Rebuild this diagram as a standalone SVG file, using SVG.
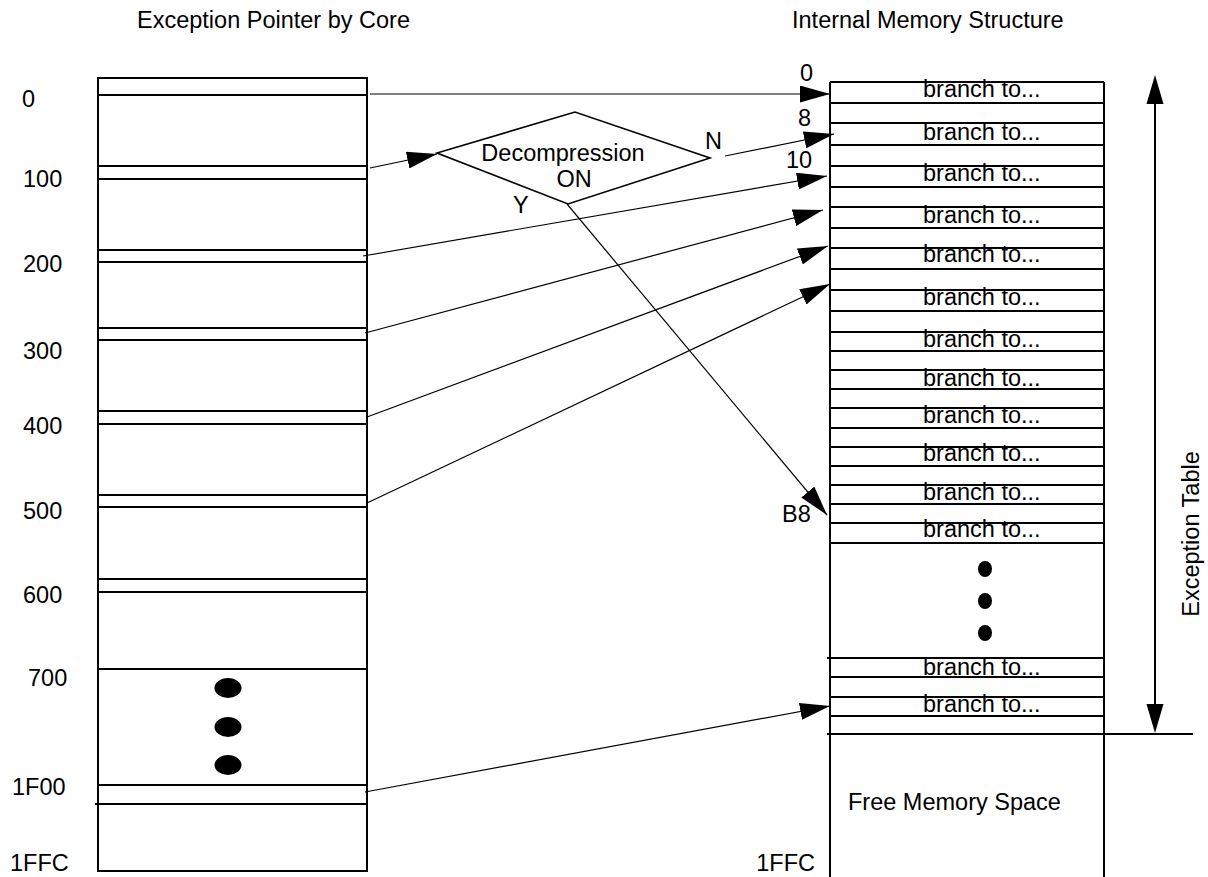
<svg xmlns="http://www.w3.org/2000/svg" width="1208" height="877" viewBox="0 0 1208 877">
<style>
text{font-family:"Liberation Sans",Arial,sans-serif;font-size:23.5px;fill:#000}
.box{fill:none;stroke:#000;stroke-width:2}
.row{stroke:#000;stroke-width:2}
.conn{stroke:#000;stroke-width:1.2;fill:none}
.dot{fill:#000}
</style>
<defs>
<marker id="ah" markerUnits="userSpaceOnUse" markerWidth="30" markerHeight="17" refX="30" refY="8.5" orient="auto" viewBox="0 0 30 17">
<path d="M0,0 L30,8.5 L0,17 Z" fill="#000"/>
</marker>
</defs>
<rect width="1208" height="877" fill="#fff"/>
<g id="titles">
<text x="137" y="28">Exception Pointer by Core</text>
<text x="792" y="28">Internal Memory Structure</text>
</g>
<g id="core-pointer">
<rect class="box" x="98" y="78" width="269" height="793"/>
<g class="row">
<line x1="98" y1="95" x2="367" y2="95"/>
<line x1="98" y1="166" x2="367" y2="166"/>
<line x1="98" y1="179" x2="367" y2="179"/>
<line x1="98" y1="250" x2="367" y2="250"/>
<line x1="98" y1="262" x2="367" y2="262"/>
<line x1="98" y1="328" x2="367" y2="328"/>
<line x1="98" y1="340" x2="367" y2="340"/>
<line x1="98" y1="411" x2="367" y2="411"/>
<line x1="98" y1="424" x2="367" y2="424"/>
<line x1="98" y1="495" x2="367" y2="495"/>
<line x1="98" y1="507" x2="367" y2="507"/>
<line x1="98" y1="579" x2="367" y2="579"/>
<line x1="98" y1="592" x2="367" y2="592"/>
<line x1="98" y1="669" x2="367" y2="669"/>
<line x1="98" y1="785" x2="367" y2="785"/>
<line x1="95" y1="804" x2="367" y2="804"/>
</g>
<ellipse class="dot" cx="228" cy="688" rx="13.5" ry="10"/>
<ellipse class="dot" cx="228" cy="727" rx="13.5" ry="10"/>
<ellipse class="dot" cx="228" cy="765" rx="13.5" ry="10"/>
<text x="22" y="107">0</text>
<text x="23" y="187">100</text>
<text x="23" y="272">200</text>
<text x="23" y="359">300</text>
<text x="23" y="434">400</text>
<text x="23" y="519">500</text>
<text x="23" y="603">600</text>
<text x="28" y="686">700</text>
<text x="12" y="795">1F00</text>
<text x="10" y="871">1FFC</text>
</g>
<g id="decision">
<polygon points="437,153 575,112 710,158 568,204" fill="#fff" stroke="#000" stroke-width="1.6"/>
<text x="563" y="161" text-anchor="middle">Decompression</text>
<text x="574" y="187" text-anchor="middle">ON</text>
<text x="705" y="149">N</text>
<text x="513" y="213">Y</text>
</g>
<g id="internal-memory">
<line class="row" x1="830" y1="82" x2="830" y2="877"/>
<line class="row" x1="1104" y1="82" x2="1104" y2="877"/>
<g class="row">
<line x1="830" y1="82" x2="1104" y2="82"/>
<line x1="830" y1="103" x2="1104" y2="103"/>
<line x1="830" y1="123" x2="1104" y2="123"/>
<line x1="830" y1="145" x2="1104" y2="145"/>
<line x1="830" y1="166" x2="1104" y2="166"/>
<line x1="830" y1="187" x2="1104" y2="187"/>
<line x1="830" y1="207" x2="1104" y2="207"/>
<line x1="830" y1="228" x2="1104" y2="228"/>
<line x1="830" y1="248" x2="1104" y2="248"/>
<line x1="830" y1="269" x2="1104" y2="269"/>
<line x1="830" y1="290" x2="1104" y2="290"/>
<line x1="830" y1="311" x2="1104" y2="311"/>
<line x1="830" y1="332" x2="1104" y2="332"/>
<line x1="830" y1="351" x2="1104" y2="351"/>
<line x1="830" y1="370" x2="1104" y2="370"/>
<line x1="830" y1="389" x2="1104" y2="389"/>
<line x1="830" y1="408" x2="1104" y2="408"/>
<line x1="830" y1="428" x2="1104" y2="428"/>
<line x1="830" y1="447" x2="1104" y2="447"/>
<line x1="830" y1="466" x2="1104" y2="466"/>
<line x1="830" y1="485" x2="1104" y2="485"/>
<line x1="830" y1="504" x2="1104" y2="504"/>
<line x1="830" y1="523" x2="1104" y2="523"/>
<line x1="830" y1="543" x2="1104" y2="543"/>
<line x1="827" y1="658" x2="1104" y2="658"/>
<line x1="830" y1="677" x2="1104" y2="677"/>
<line x1="830" y1="697" x2="1104" y2="697"/>
<line x1="830" y1="716" x2="1104" y2="716"/>
<line x1="827" y1="734" x2="1193" y2="734"/>
</g>
<text x="923" y="97">branch to...</text>
<text x="923" y="140">branch to...</text>
<text x="923" y="181">branch to...</text>
<text x="923" y="223">branch to...</text>
<text x="923" y="262">branch to...</text>
<text x="923" y="305">branch to...</text>
<text x="923" y="347">branch to...</text>
<text x="923" y="386">branch to...</text>
<text x="923" y="423">branch to...</text>
<text x="923" y="461">branch to...</text>
<text x="923" y="500">branch to...</text>
<text x="923" y="537">branch to...</text>
<text x="923" y="675">branch to...</text>
<text x="923" y="712">branch to...</text>
<ellipse class="dot" cx="985" cy="569" rx="7" ry="8"/>
<ellipse class="dot" cx="985" cy="601" rx="7" ry="8"/>
<ellipse class="dot" cx="985" cy="633" rx="7" ry="8"/>
<text x="800" y="81">0</text>
<text x="798" y="126">8</text>
<text x="786" y="168">10</text>
<text x="782" y="522">B8</text>
<text x="815" y="871" text-anchor="end">1FFC</text>
<text x="848" y="810">Free Memory Space</text>
</g>
<g id="exception-table">
<line x1="1155" y1="100" x2="1155" y2="708" stroke="#000" stroke-width="2"/>
<polygon points="1155,75 1146.5,104 1163.5,104" fill="#000"/>
<polygon points="1155,733 1146.5,704 1163.5,704" fill="#000"/>
<text x="1199" y="534" text-anchor="middle" transform="rotate(-90 1199 534)">Exception Table</text>
</g>
<g id="connectors">
<line class="conn" x1="370" y1="94" x2="830" y2="94" stroke-width="1.8" marker-end="url(#ah)"/>
<line class="conn" x1="370" y1="168" x2="437" y2="154" marker-end="url(#ah)"/>
<line class="conn" x1="725" y1="156" x2="834" y2="134" marker-end="url(#ah)"/>
<line class="conn" x1="363" y1="256" x2="827" y2="176" marker-end="url(#ah)"/>
<line class="conn" x1="567" y1="204" x2="827" y2="515" marker-end="url(#ah)"/>
<line class="conn" x1="365" y1="333" x2="823" y2="210" marker-end="url(#ah)"/>
<line class="conn" x1="367" y1="417" x2="828" y2="246" marker-end="url(#ah)"/>
<line class="conn" x1="367" y1="503" x2="830" y2="284" marker-end="url(#ah)"/>
<line class="conn" x1="365" y1="792" x2="830" y2="706" marker-end="url(#ah)"/>
</g>
</svg>
